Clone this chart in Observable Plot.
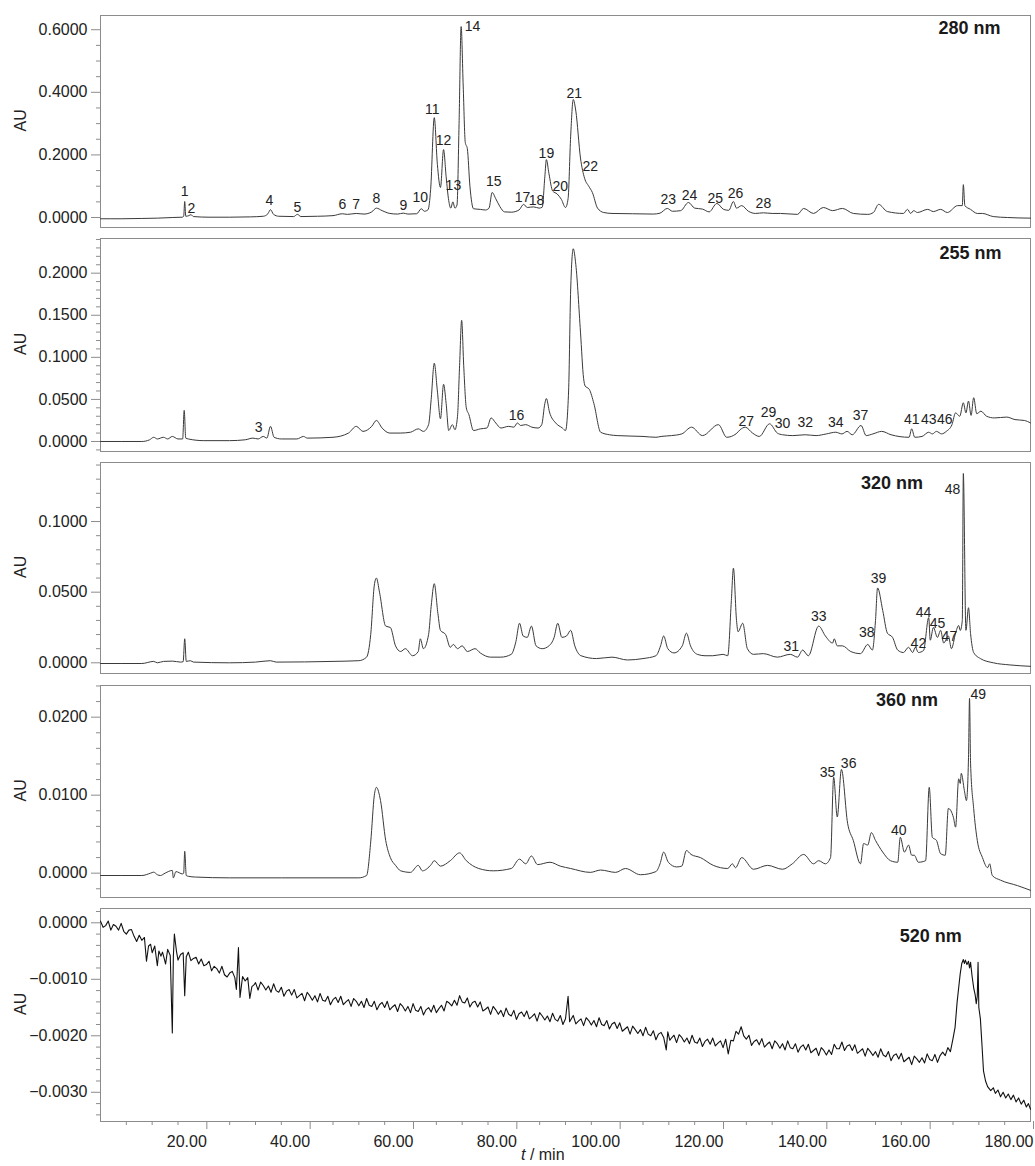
<!DOCTYPE html>
<html><head><meta charset="utf-8">
<script src="https://cdn.jsdelivr.net/npm/d3@7"></script>
<script src="https://cdn.jsdelivr.net/npm/@observablehq/plot@0.6"></script>
<style>
body{margin:0;background:#fff;}
#chart{width:1035px;}
#chart svg{display:block;}
</style></head><body><div id="chart"></div>
<script>
// ---------- data (t in min, absorbance in AU) ----------
const trace280 = [[0,-0.004],[4,-0.004],[8,-0.003],[11,-0.002],[14,0],[15.8,0.001],[16.1,0.004],[16.3,0.051],[16.5,0.004],[17.1,0.006],[17.5,0.009],[18,0.003],[21,0.001],[25,0.001],[29,0.002],[31.5,0.004],[32.4,0.012],[32.9,0.025],[33.5,0.01],[34.5,0.004],[37.4,0.003],[38.1,0.01],[38.8,0.003],[42,0.004],[45,0.006],[46.8,0.012],[47.8,0.01],[49.5,0.013],[51,0.011],[52.5,0.018],[53.4,0.030],[54.5,0.022],[56,0.013],[57.5,0.011],[58.6,0.014],[59.5,0.011],[61.2,0.012],[62.1,0.028],[62.7,0.02],[63.4,0.025],[63.9,0.09],[64.6,0.319],[65.2,0.17],[65.8,0.096],[66.4,0.217],[66.9,0.13],[67.4,0.054],[67.8,0.03],[68.2,0.05],[68.6,0.03],[69.0,0.04],[69.4,0.3],[69.8,0.61],[70.2,0.42],[70.6,0.24],[71.0,0.22],[71.5,0.1],[72.2,0.028],[73.5,0.026],[74.5,0.024],[75.2,0.03],[75.8,0.08],[76.5,0.06],[77.3,0.035],[78.2,0.018],[79.5,0.017],[81.0,0.024],[81.9,0.042],[82.6,0.032],[83.8,0.034],[84.9,0.03],[85.5,0.033],[86.0,0.13],[86.3,0.185],[86.8,0.14],[87.5,0.085],[88.4,0.075],[89.2,0.058],[90.0,0.032],[90.5,0.06],[91.0,0.26],[91.5,0.377],[92.0,0.34],[92.9,0.19],[93.7,0.125],[94.5,0.1],[95.2,0.08],[96.2,0.03],[97.4,0.016],[99,0.013],[103,0.012],[107,0.011],[108.3,0.014],[109.7,0.029],[110.7,0.02],[112.3,0.022],[113.8,0.048],[115,0.03],[116.5,0.027],[117.8,0.018],[119.3,0.045],[120.6,0.026],[121.6,0.023],[122.5,0.051],[123.1,0.03],[124.1,0.038],[125.4,0.02],[126.8,0.013],[128.3,0.015],[130,0.013],[131.6,0.013],[134.9,0.01],[136.1,0.029],[138,0.013],[139.9,0.032],[141.7,0.022],[143.6,0.029],[145.7,0.013],[148.5,0.01],[149.6,0.016],[150.6,0.042],[152.3,0.019],[155.4,0.013],[156.2,0.026],[156.8,0.013],[157.4,0.022],[158.1,0.016],[160.1,0.026],[161.2,0.019],[162.6,0.026],[163.9,0.016],[165.9,0.038],[166.8,0.038],[167.0,0.105],[167.3,0.038],[168.4,0.026],[169.7,0.013],[170.7,0.013],[172.8,0.003],[175.5,0],[180,-0.002]];

const trace255 = [[0,0],[8,0],[9.5,0.002],[10.3,0.005],[11,0.003],[12.2,0.005],[13,0.003],[13.9,0.006],[15,0.003],[15.9,0.003],[16.2,0.037],[16.5,0.004],[17,0.003],[20,0.001],[25,0.001],[28,0.002],[29.5,0.004],[30.5,0.003],[31.5,0.006],[32.2,0.004],[32.9,0.018],[33.6,0.005],[35,0.003],[38,0.003],[39.3,0.006],[40,0.004],[45,0.005],[48,0.01],[49.5,0.018],[50.8,0.012],[52.5,0.018],[53.4,0.025],[54.5,0.016],[56,0.01],[58,0.01],[60,0.011],[61.5,0.015],[62.5,0.012],[63.5,0.02],[64.0,0.05],[64.6,0.093],[65.2,0.06],[65.8,0.027],[66.4,0.068],[66.9,0.045],[67.4,0.013],[68.1,0.02],[68.6,0.014],[69.1,0.03],[69.5,0.09],[69.9,0.144],[70.3,0.09],[70.8,0.04],[71.3,0.032],[72.2,0.013],[73.5,0.015],[74.8,0.016],[75.6,0.028],[76.5,0.022],[77.5,0.016],[79,0.018],[80,0.017],[80.7,0.022],[81.3,0.019],[82.3,0.02],[83.5,0.017],[84.7,0.016],[85.4,0.02],[86.0,0.045],[86.3,0.051],[86.9,0.035],[88.1,0.022],[89.4,0.016],[90.0,0.013],[90.6,0.06],[91.0,0.18],[91.5,0.229],[92.0,0.21],[92.9,0.13],[93.5,0.075],[93.8,0.066],[94.6,0.062],[95.5,0.045],[96.8,0.011],[98.5,0.008],[100,0.007],[105,0.006],[107.5,0.005],[108.5,0.006],[110.5,0.007],[112.5,0.009],[114.4,0.017],[116.5,0.007],[119.6,0.02],[121.2,0.005],[123,0.009],[123.8,0.014],[124.8,0.017],[126.2,0.01],[127.5,0.006],[129.5,0.021],[131,0.01],[132,0.008],[134,0.007],[136.4,0.008],[138.5,0.007],[140.5,0.009],[142.3,0.011],[143.5,0.009],[144.5,0.012],[145.5,0.008],[147.2,0.019],[148.2,0.007],[149.5,0.009],[151.2,0.012],[153,0.008],[156.5,0.005],[157,0.015],[157.6,0.005],[159,0.006],[160.3,0.011],[161,0.009],[161.8,0.012],[162.8,0.009],[163.7,0.012],[164.8,0.02],[165.5,0.034],[166.3,0.03],[167.0,0.046],[167.5,0.034],[168.0,0.048],[168.5,0.031],[169.0,0.052],[169.6,0.033],[170.4,0.036],[171.5,0.03],[173,0.028],[175.4,0.029],[177,0.026],[178.8,0.025],[180,0.022]];

const trace320 = [[0,-0.0005],[8,-0.0005],[10.3,0.001],[11,0],[12.2,0.001],[13.9,0.0012],[15.5,0.0005],[16.0,0.0008],[16.3,0.017],[16.6,0.001],[17.4,0.0015],[18,0.0005],[25,0],[30,0.0005],[32.9,0.0015],[34,0.0005],[45,0.001],[50,0.0015],[51.5,0.004],[52.3,0.02],[53.0,0.055],[53.4,0.06],[54.0,0.05],[55.2,0.026],[56.1,0.025],[57.1,0.012],[58.1,0.008],[59.0,0.01],[60.4,0.005],[61.5,0.008],[61.9,0.017],[62.5,0.01],[63.5,0.02],[64.0,0.04],[64.6,0.056],[65.3,0.035],[65.8,0.023],[66.8,0.02],[67.7,0.011],[68.3,0.013],[69.1,0.01],[70.0,0.012],[71.0,0.008],[72.5,0.01],[73.5,0.007],[75.5,0.004],[77.5,0.004],[79.5,0.006],[80.4,0.015],[81.1,0.028],[81.8,0.019],[82.6,0.018],[83.4,0.026],[84.3,0.012],[85.5,0.01],[86.8,0.012],[87.8,0.018],[88.5,0.028],[89.3,0.018],[90.2,0.019],[91.0,0.023],[91.8,0.012],[93,0.005],[96,0.003],[99,0.004],[102,0.002],[105,0.003],[107.5,0.005],[108.4,0.012],[109.0,0.019],[109.8,0.01],[111,0.007],[112.6,0.012],[113.4,0.021],[114.2,0.012],[115.5,0.006],[117,0.005],[118.5,0.005],[120.5,0.006],[121.4,0.005],[122.1,0.044],[122.5,0.067],[123.1,0.03],[123.4,0.022],[124.3,0.028],[125.2,0.01],[126.4,0.006],[128.3,0.0065],[131,0.004],[133.5,0.006],[134.9,0.004],[135.9,0.009],[137,0.005],[139.0,0.026],[140.3,0.019],[141.7,0.014],[142.0,0.017],[142.6,0.012],[143.6,0.012],[145.2,0.008],[147.1,0.0065],[148.5,0.013],[149.4,0.009],[150.0,0.03],[150.4,0.053],[151.4,0.037],[152.3,0.021],[153.3,0.018],[154.3,0.009],[155.4,0.0073],[156.4,0.011],[157.2,0.0073],[157.7,0.011],[158.3,0.0073],[159.3,0.0087],[160.3,0.032],[160.6,0.016],[161.2,0.025],[162.0,0.018],[162.6,0.023],[163.2,0.014],[164.1,0.019],[164.7,0.01],[165.5,0.021],[166.1,0.0264],[166.4,0.0229],[166.8,0.03],[167.0,0.134],[167.5,0.023],[168.0,0.039],[168.4,0.0207],[169.0,0.0073],[170.3,0.003],[172.8,0],[176,-0.0015],[180,-0.0025]];

const trace360 = [[0,-0.0003],[8,-0.0003],[9.7,0],[10.3,0.00013],[11.0,-0.0002],[11.6,-0.0003],[12.5,0],[13.9,0.00035],[14.1,-0.0006],[14.6,0.0002],[15.9,-0.0001],[16.1,0],[16.3,0.0028],[16.6,-0.0003],[17.0,-0.0004],[18.4,-0.0005],[25,-0.0006],[35,-0.0006],[45,-0.0006],[50,-0.0006],[51.5,-0.0003],[52.3,0.004],[53.0,0.01],[53.4,0.011],[54.2,0.0093],[55.2,0.0042],[56.1,0.002],[57.1,0.001],[58.1,0.0003],[60,0.0001],[61.5,0.001],[62.3,0.0003],[64.0,0.0011],[64.6,0.0016],[65.8,0.0009],[67.7,0.0016],[69.5,0.0026],[70.8,0.0016],[73.2,0.0006],[76.0,0.0003],[79.5,0.0006],[81.1,0.0018],[82.3,0.0012],[83.4,0.0022],[84.6,0.0011],[87,0.0014],[89.0,0.0009],[91.0,0.0006],[94.8,0.0001],[96.8,0.0004],[99.7,0.0001],[101.6,0.0006],[104.5,-0.0002],[107.5,0.0002],[108.3,0.0012],[109.0,0.0027],[109.9,0.0014],[111.5,0.0008],[112.5,0.0009],[113.4,0.0029],[114.3,0.0024],[116.1,0.002],[118.6,0.001],[121.4,0.0006],[122.3,0.0012],[122.9,0.0007],[124.1,0.002],[126.4,0.0005],[129.1,0.001],[132.0,0.0005],[133.9,0.0012],[136.1,0.0024],[138.0,0.0012],[139.0,0.0016],[140.3,0.0012],[141.3,0.002],[141.9,0.0123],[142.6,0.0072],[143.4,0.0133],[144.6,0.0064],[145.7,0.0042],[147.1,0.0012],[147.7,0.0038],[148.5,0.0036],[149.2,0.0052],[150.0,0.0042],[151.4,0.0027],[152.9,0.0016],[154.3,0.0014],[154.8,0.0046],[155.6,0.0027],[156.4,0.0036],[157.0,0.0023],[157.5,0.0023],[158.3,0.0014],[159.7,0.0016],[160.4,0.011],[161.0,0.0046],[161.8,0.0042],[162.6,0.0025],[163.5,0.0023],[164.1,0.0083],[165.1,0.0071],[165.5,0.0059],[166.1,0.0121],[166.4,0.0115],[166.6,0.0128],[167.2,0.0106],[167.6,0.0093],[168.0,0.0148],[168.2,0.0224],[168.4,0.0141],[169.0,0.0083],[169.7,0.0042],[170.7,0.002],[171.7,0.0007],[172.1,0.0012],[172.6,-0.0003],[174.2,-0.0009],[177.5,-0.0016],[180,-0.0022]];

const trace520 = [[0,0.00003],[0.5,-0.00008],[1,-0.00005],[1.5,0.00003],[2,-0.00013],[2.5,-0.00003],[3,-0.00006],[3.5,-0.00013],[4,-0.00001],[4.5,-0.00015],[5,-0.0002],[5.5,-0.00013],[6,-0.00012],[6.5,-0.00024],[7,-0.00033],[7.5,-0.00022],[8,-0.00031],[8.5,-0.00026],[8.9,-0.00068],[9.3,-0.00041],[9.7,-0.00038],[10,-0.00053],[10.5,-0.00041],[11,-0.00076],[11.3,-0.0005],[11.7,-0.00059],[12,-0.00052],[12.3,-0.00062],[12.6,-0.00073],[13,-0.00047],[13.5,-0.00058],[13.9,-0.00195],[14.1,-0.0006],[14.3,-0.0002],[14.7,-0.0005],[15,-0.00066],[15.5,-0.00056],[16,-0.00053],[16.3,-0.00129],[16.6,-0.0006],[17,-0.00052],[17.5,-0.00067],[18,-0.00063],[18.5,-0.00061],[19,-0.00073],[19.5,-0.00064],[20,-0.00076],[20.5,-0.00074],[21,-0.00068],[21.5,-0.00085],[22,-0.00077],[22.5,-0.00081],[23,-0.00089],[23.5,-0.00077],[24,-0.00092],[24.5,-0.00096],[25,-0.00089],[25.5,-0.00086],[26,-0.00097],[26.3,-0.00118],[26.7,-0.00044],[27,-0.00132],[27.5,-0.00095],[28,-0.00103],[28.5,-0.00097],[28.9,-0.00134],[29.3,-0.00113],[29.7,-0.0011],[30,-0.00106],[30.5,-0.00119],[31,-0.00105],[31.5,-0.00111],[32,-0.00119],[32.5,-0.00112],[33,-0.00123],[33.5,-0.00108],[34,-0.0012],[34.5,-0.00123],[35,-0.00114],[35.5,-0.0013],[36,-0.00121],[36.5,-0.00118],[37,-0.00128],[37.5,-0.00118],[38,-0.00133],[38.5,-0.00129],[39,-0.00125],[39.5,-0.00138],[40,-0.00123],[40.5,-0.00129],[41,-0.00137],[41.5,-0.00129],[42,-0.0014],[42.5,-0.00125],[43,-0.00137],[43.5,-0.00139],[44,-0.0013],[44.5,-0.00145],[45,-0.00136],[45.5,-0.00132],[46,-0.00141],[46.5,-0.0013],[47,-0.00145],[47.5,-0.0014],[48,-0.00136],[48.5,-0.00148],[49,-0.00134],[49.5,-0.00139],[50,-0.00147],[50.5,-0.00139],[51,-0.0015],[51.5,-0.00134],[52,-0.00146],[52.5,-0.00148],[53,-0.00139],[53.5,-0.00154],[54,-0.00145],[54.5,-0.00141],[55,-0.0015],[55.5,-0.00139],[56,-0.00154],[56.5,-0.00149],[57,-0.00145],[57.5,-0.00157],[58,-0.00143],[58.5,-0.00148],[59,-0.00156],[59.5,-0.00148],[60,-0.00159],[60.5,-0.00143],[61,-0.00155],[61.5,-0.00157],[62,-0.00148],[62.5,-0.00163],[63,-0.00154],[63.5,-0.0015],[64,-0.00158],[64.5,-0.00146],[65,-0.00159],[65.5,-0.00152],[66,-0.00146],[66.5,-0.00156],[67,-0.00139],[67.5,-0.00142],[68,-0.00147],[68.5,-0.00137],[69,-0.00146],[69.5,-0.00129],[70,-0.0014],[70.5,-0.00142],[71,-0.00133],[71.5,-0.00149],[72,-0.00141],[72.5,-0.00139],[73,-0.00149],[73.5,-0.0014],[74,-0.00156],[74.5,-0.00153],[75,-0.00149],[75.5,-0.00162],[76,-0.00148],[76.5,-0.00154],[77,-0.00162],[77.5,-0.00155],[78,-0.00166],[78.5,-0.00151],[79,-0.00162],[79.5,-0.00165],[80,-0.00155],[80.5,-0.00171],[81,-0.00161],[81.5,-0.00158],[82,-0.00166],[82.5,-0.00156],[83,-0.0017],[83.5,-0.00166],[84,-0.00161],[84.5,-0.00174],[85,-0.00159],[85.5,-0.00165],[86,-0.00172],[86.5,-0.00165],[87,-0.00175],[87.5,-0.0016],[88,-0.00171],[88.5,-0.00174],[89,-0.00164],[89.5,-0.0018],[90,-0.0017],[90.5,-0.0013],[90.8,-0.00175],[91.5,-0.00164],[92,-0.00179],[92.5,-0.00174],[93,-0.0017],[93.5,-0.00182],[94,-0.00168],[94.5,-0.00173],[95,-0.00181],[95.5,-0.00173],[96,-0.00184],[96.5,-0.00168],[97,-0.0018],[97.5,-0.00182],[98,-0.00173],[98.5,-0.00188],[99,-0.00179],[99.5,-0.00176],[100,-0.00187],[100.5,-0.00177],[101,-0.00192],[101.5,-0.00188],[102,-0.00184],[102.5,-0.00197],[103,-0.00183],[103.5,-0.00189],[104,-0.00196],[104.5,-0.00189],[105,-0.002],[105.5,-0.00185],[106,-0.00197],[106.5,-0.002],[107,-0.00191],[107.5,-0.00207],[108,-0.00197],[108.5,-0.00194],[109,-0.00203],[109.5,-0.00225],[109.8,-0.00193],[110.2,-0.00208],[110.5,-0.00204],[111,-0.00199],[111.5,-0.00212],[112,-0.00198],[112.5,-0.00203],[113,-0.00211],[113.5,-0.00204],[114,-0.00214],[114.5,-0.00199],[115,-0.00211],[115.5,-0.00213],[116,-0.00204],[116.5,-0.00219],[117,-0.0021],[117.5,-0.00206],[118,-0.00215],[118.5,-0.00204],[119,-0.00218],[119.5,-0.00213],[120,-0.00209],[120.5,-0.00221],[121,-0.00206],[121.5,-0.00232],[122,-0.00208],[122.5,-0.00209],[123,-0.00192],[123.5,-0.00197],[124,-0.00184],[124.5,-0.002],[125,-0.00206],[125.5,-0.00199],[126,-0.00217],[126.5,-0.0021],[127,-0.00207],[127.5,-0.00216],[128,-0.00205],[128.5,-0.0022],[129,-0.00215],[129.5,-0.00211],[130,-0.00223],[130.5,-0.00209],[131,-0.00214],[131.5,-0.00222],[132,-0.00214],[132.5,-0.00225],[133,-0.00209],[133.5,-0.00221],[134,-0.00223],[134.5,-0.00214],[135,-0.00229],[135.5,-0.0022],[136,-0.00216],[136.5,-0.00225],[137,-0.00215],[137.5,-0.0023],[138,-0.00226],[138.5,-0.00222],[139,-0.00235],[139.5,-0.00221],[140,-0.00226],[140.5,-0.00234],[141,-0.00225],[141.5,-0.00233],[142,-0.00215],[142.5,-0.00223],[143,-0.00223],[143.5,-0.00211],[144,-0.00226],[144.5,-0.00218],[145,-0.00216],[145.5,-0.00226],[146,-0.00216],[146.5,-0.00231],[147,-0.00227],[147.5,-0.00223],[148,-0.00236],[148.5,-0.00222],[149,-0.00228],[149.5,-0.00235],[150,-0.00228],[150.5,-0.00238],[151,-0.00223],[151.5,-0.00234],[152,-0.00237],[152.5,-0.00228],[153,-0.00244],[153.5,-0.00235],[154,-0.00232],[154.5,-0.00241],[155,-0.00231],[155.5,-0.00246],[156,-0.00242],[156.5,-0.00238],[157,-0.00251],[157.5,-0.00236],[158,-0.00241],[158.5,-0.00247],[159,-0.00239],[159.5,-0.00248],[160,-0.00232],[160.5,-0.00242],[161,-0.00244],[161.5,-0.00233],[162,-0.00247],[162.5,-0.00235],[163,-0.00229],[163.5,-0.00235],[164,-0.00221],[164.5,-0.00228],[165,-0.00205],[165.4,-0.00185],[165.8,-0.0014],[166.1,-0.00115],[166.4,-0.0009],[166.7,-0.00072],[167.0,-0.00065],[167.2,-0.00072],[167.4,-0.00066],[167.7,-0.00074],[168.0,-0.00068],[168.2,-0.0008],[168.4,-0.0007],[168.7,-0.00095],[169.0,-0.00115],[169.3,-0.00128],[169.5,-0.00143],[169.7,-0.0013],[169.85,-0.0007],[170.0,-0.0015],[170.3,-0.0017],[170.6,-0.00215],[170.9,-0.00262],[171.3,-0.0028],[171.7,-0.0029],[172.3,-0.00297],[172.8,-0.00292],[173.2,-0.00302],[173.7,-0.00296],[174.2,-0.00308],[174.7,-0.003],[175.2,-0.0031],[175.7,-0.00303],[176.2,-0.00313],[176.7,-0.00305],[177.2,-0.00317],[177.7,-0.0031],[178.2,-0.00321],[178.7,-0.00314],[179.2,-0.00326],[179.6,-0.0032],[180,-0.0033]];

// peak labels: [text, t, AU]
const labels280 = [["1",16.3,0.084],["2",17.6,0.029],["4",32.7,0.054],["5",38.1,0.032],["6",46.8,0.042],["7",49.5,0.042],["8",53.4,0.061],["9",58.6,0.038],["10",61.9,0.063],["11",64.2,0.345],["12",66.4,0.246],["13",68.3,0.102],["14",72.0,0.61],["15",76.1,0.115],["17",81.7,0.064],["18",84.4,0.054],["19",86.3,0.204],["20",89.0,0.099],["21",91.7,0.396],["22",94.8,0.163],["23",109.9,0.058],["24",114.0,0.07],["25",119.0,0.061],["26",122.9,0.077],["28",128.3,0.045]];
const labels255 = [["3",30.6,0.017],["16",80.5,0.031],["27",125.0,0.024],["29",129.3,0.034],["30",132.0,0.021],["32",136.4,0.022],["34",142.3,0.022],["37",147.1,0.031],["41",157.0,0.026],["43",160.3,0.026],["46",163.4,0.026]];
const labels320 = [["31",133.7,0.0115],["33",139.0,0.0328],["38",148.3,0.0214],["39",150.6,0.0597],["42",158.3,0.0136],["44",159.3,0.0356],["45",162.0,0.0278],["47",164.3,0.0186],["48",164.9,0.1226]];
const labels360 = [["35",140.7,0.0129],["36",144.8,0.0141],["40",154.5,0.0055],["49",169.9,0.0229]];
const labels520 = [];

const wavelengths = ["280 nm","255 nm","320 nm","360 nm","520 nm"];
const titleAt = [[168.2,0.604],[168.4,0.2234],[153.2,0.127],[156.1,0.0222],[160.7,-0.000237]];

const yDomains = [[-0.0319,0.6454],[-0.0119,0.2412],[-0.00757,0.1418],[-0.00312,0.02406],[-0.003517,0.000253]];
const yMajor = [[0,0.2,0.4,0.6],[0,0.05,0.1,0.15,0.2],[0,0.05,0.1],[0,0.01,0.02],[0,-0.001,-0.002,-0.003]];
const yMinorStep = [0.05,0.01,0.01,0.002,0.0002];
const yTitle = "AU";
const xMajor = [20,40,60,80,100,120,140,160,180];
const xDomain = [0,180];
const xTitle = "t / min";
const xTitleAt = 85.6;

// ---------- layout ----------
const traces = [trace280,trace255,trace320,trace360,trace520];
const labelSets = [labels280,labels255,labels320,labels360,labels520];
const frames = [
  {mt:15,h:232,mb:5,auDy:10},
  {mt:6,h:224,mb:5,auDy:10},
  {mt:6,h:223,mb:6,auDy:10},
  {mt:6,h:223,mb:5,auDy:10},
  {mt:6,h:264,mb:45,auDy:0}
];
const FONT = "'Liberation Sans', Arial, Helvetica, sans-serif";
const GRAY = "#8c8c8c";

const chart = document.getElementById("chart");
const fmt4 = d3.format(".4f");
const fmt2 = d3.format(".2f");

traces.forEach((trace, i) => {
  const last = i === traces.length - 1;
  const [y0, y1] = yDomains[i];
  const step = yMinorStep[i];
  const minor = d3.range(Math.ceil(y0 / step), Math.floor(y1 / step) + 1)
    .map(k => +(k * step).toFixed(6))
    .filter(v => !yMajor[i].some(m => Math.abs(m - v) < step / 10));
  const marks = [
    Plot.frame({stroke: GRAY}),
    Plot.axisY(minor, {tickSize: 4, tickFormat: () => "", label: null, stroke: GRAY}),
    Plot.axisY(yMajor[i], {tickSize: 9, tickPadding: 4, tickFormat: fmt4, fontSize: 16, fill: "#222",
      stroke: GRAY, label: null}),
    Plot.text([yTitle], {frameAnchor: "left", rotate: -90, dx: -80, dy: frames[i].auDy, text: d => d, fontSize: 16, fill: "#222"}),
    Plot.line(trace, {x: d => d[0], y: d => d[1], stroke: last ? "#111" : "#3a3a3a",
      strokeWidth: last ? 1.1 : 1, curve: last ? "linear" : "monotone-x"}),
    Plot.text(labelSets[i], {x: d => d[1], y: d => d[2], text: d => d[0], fontSize: 14, fill: "#222"}),
    Plot.text([titleAt[i]], {x: d => d[0], y: d => d[1], text: () => wavelengths[i], fontSize: 18, fontWeight: "bold", fill: "#1a1a1a"})
  ];
  if (last) {
    const xMinor = d3.range(5, 181, 5).filter(v => !xMajor.includes(v));
    marks.push(
      Plot.axisX(xMinor, {tickSize: 4, tickFormat: () => "", label: null, stroke: GRAY}),
      Plot.axisX(xMajor, {tickSize: 8, tickPadding: 6, tickFormat: fmt2, fontSize: 16, fill: "#222",
        stroke: GRAY, textAnchor: "end", dx: 3, label: null}),
      Plot.text([xTitleAt], {x: d => d, frameAnchor: "bottom", dy: 38, text: () => xTitle, fontSize: 16, fill: "#222"})
    );
  }
  const svg = Plot.plot({
    width: 1035,
    height: frames[i].h,
    marginTop: frames[i].mt,
    marginBottom: frames[i].mb,
    marginLeft: 100,
    marginRight: 5,
    style: {fontFamily: FONT, background: "#fff", color: "#222"},
    x: {domain: xDomain, axis: last ? undefined : null},
    y: {domain: yDomains[i]},
    marks
  });
  if (last) {
    svg.querySelectorAll("text").forEach(t => {
      if (t.textContent === xTitle) {
        t.textContent = "";
        const ns = "http://www.w3.org/2000/svg";
        const a = document.createElementNS(ns, "tspan");
        a.setAttribute("font-style", "italic");
        a.textContent = "t";
        const b = document.createElementNS(ns, "tspan");
        b.textContent = " / min";
        t.appendChild(a); t.appendChild(b);
      }
    });
  }
  chart.appendChild(svg);
});
</script>
</body></html>
